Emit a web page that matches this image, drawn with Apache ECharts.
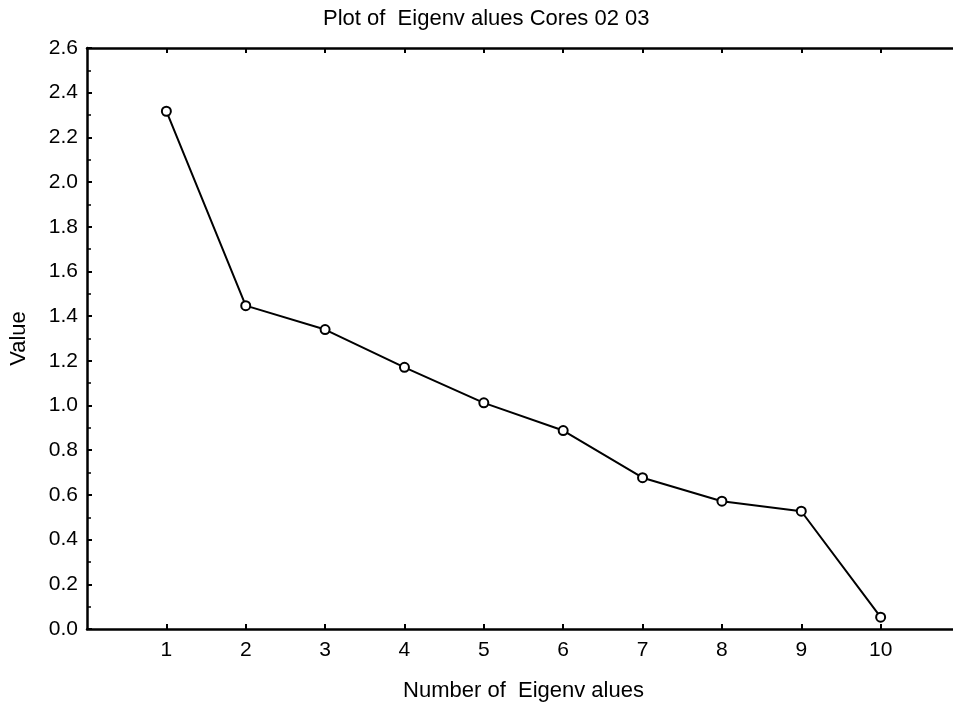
<!DOCTYPE html>
<html>
<head>
<meta charset="utf-8">
<script src="https://cdn.jsdelivr.net/npm/echarts@6/dist/echarts.min.js"></script>
<style>
  html, body { margin: 0; padding: 0; background: #fff; overflow: hidden; }
  /* the plot frame runs past the right edge of the window */
  #chart { width: 965px; height: 709px; }
</style>
</head>
<body>
<div id="chart"></div>
<script>
// Scree plot data
const eigenNumbers = [1, 2, 3, 4, 5, 6, 7, 8, 9, 10];
const eigenValues = [2.317, 1.447, 1.340, 1.171, 1.012, 0.888, 0.677, 0.572, 0.527, 0.053];
const xTickLabels = ['1', '2', '3', '4', '5', '6', '7', '8', '9', '10'];

const chart = echarts.init(document.getElementById('chart'));
const font = 'Liberation Sans, Arial, sans-serif';

chart.setOption({
  animation: false,
  backgroundColor: '#ffffff',
  title: {
    text: 'Plot of  Eigenv alues Cores 02 03',
    left: 318,
    top: 3,
    textStyle: { fontFamily: font, fontSize: 22, fontWeight: 'normal', color: '#000' }
  },
  grid: { left: 87, top: 48, width: 873, height: 581 },
  xAxis: [
    {
      type: 'value', min: 0, max: 11, interval: 1, position: 'bottom',
      name: 'Number of  Eigenv alues', nameLocation: 'middle', nameGap: 51,
      nameTextStyle: { fontFamily: font, fontSize: 22, color: '#000' },
      axisLine: { lineStyle: { color: '#000', width: 2.5 } },
      axisTick: { inside: true, length: 5, customValues: eigenNumbers, lineStyle: { color: '#000', width: 2 } },
      axisLabel: {
        margin: 11, fontFamily: font, fontSize: 21, color: '#000',
        customValues: eigenNumbers,
        formatter: v => { const i = eigenNumbers.indexOf(v); return i >= 0 ? xTickLabels[i] : ''; }
      },
      splitLine: { show: false }
    },
    {
      type: 'value', min: 0, max: 11, interval: 1, position: 'top',
      axisLine: { lineStyle: { color: '#000', width: 2.5 } },
      axisTick: { inside: true, length: 5, customValues: eigenNumbers, lineStyle: { color: '#000', width: 2 } },
      axisLabel: { show: false },
      splitLine: { show: false }
    }
  ],
  yAxis: {
    type: 'value', min: 0, max: 2.6, interval: 0.2,
    name: 'Value', nameLocation: 'middle', nameGap: 57, nameRotate: 90,
    nameTextStyle: { fontFamily: font, fontSize: 22, color: '#000' },
    axisLine: { show: true, lineStyle: { color: '#000', width: 2.5 } },
    axisTick: { inside: true, length: 5, lineStyle: { color: '#000', width: 2 } },
    minorTick: { show: true, splitNumber: 2, length: 4, lineStyle: { color: '#000', width: 1.5 } },
    axisLabel: {
      margin: 9, fontFamily: font, fontSize: 21, color: '#000',
      formatter: v => v.toFixed(1)
    },
    splitLine: { show: false }
  },
  series: [{
    type: 'line',
    data: eigenNumbers.map((n, i) => [n, eigenValues[i]]),
    symbol: 'circle',
    symbolSize: 9,
    lineStyle: { color: '#000', width: 2 },
    itemStyle: { color: '#fff', borderColor: '#000', borderWidth: 2 }
  }]
});
</script>
</body>
</html>
